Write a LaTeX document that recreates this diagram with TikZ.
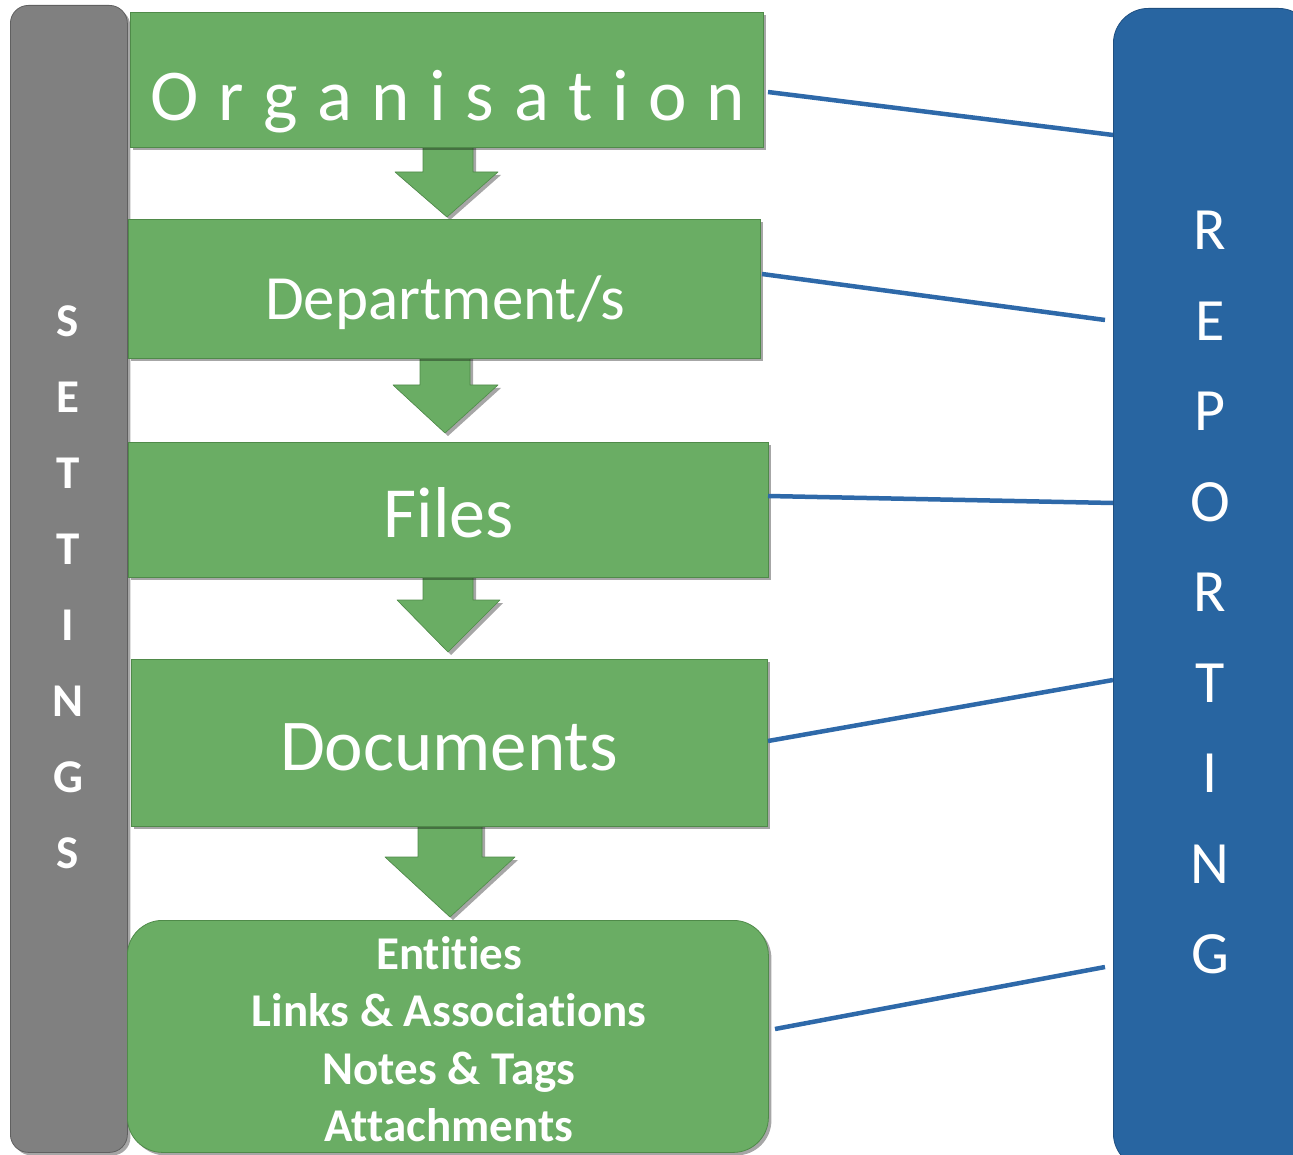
\documentclass[tikz,border=0pt]{standalone}
\usepackage{fontspec}
\setmainfont[Ligatures=NoCommon]{Carlito}
\usetikzlibrary{shadows}
\definecolor{grn}{HTML}{6AAD64}
\definecolor{grnd}{HTML}{4F8A49}
\definecolor{gry}{HTML}{808080}
\definecolor{gryd}{HTML}{606060}
\definecolor{blu}{HTML}{2865A1}
\definecolor{blud}{HTML}{1F4F80}
\definecolor{lin}{HTML}{2E69A9}
\tikzset{
  shd/.style={drop shadow={shadow xshift=3pt,shadow yshift=-3pt,opacity=0.35,fill=black}},
  gbox/.style={shd,draw=grnd,line width=0.8pt,fill=grn,text=white,inner sep=0pt,anchor=north west},
  garrow/.style={shd,draw=grnd,line width=0.6pt,fill=grn,line join=round},
  bar/.style={shd,line width=0.8pt,inner sep=0pt,anchor=north west,rounded corners=18pt},
  conn/.style={lin,line width=4.5pt},
}
\begin{document}
\begin{tikzpicture}[x=1pt,y=-1pt]
\useasboundingbox (0,0) rectangle (1293,1155);
\clip (0,0) rectangle (1293,1155);
% block arrows
\path[garrow] (423,140) -- (473,140) -- (473,172) -- (498,172) -- (447,217) -- (395,172) -- (423,172) -- cycle;
\path[garrow] (420,352) -- (470,352) -- (470,385) -- (498,385) -- (445,433) -- (393,385) -- (420,385) -- cycle;
\path[garrow] (423,572) -- (473,572) -- (473,600) -- (500,600) -- (448,652) -- (397,600) -- (423,600) -- cycle;
\path[garrow] (418,820) -- (482,820) -- (482,857) -- (515,857) -- (450,917) -- (385,857) -- (418,857) -- cycle;
% side bars
\node[bar,draw=gryd,fill=gry,minimum width=117pt,minimum height=1147pt] (set) at (10,5) {};
\node[bar,draw=blud,fill=blu,minimum width=200pt,minimum height=1160pt,rounded corners=35pt] (rep) at (1113,8) {};
% boxes
\node[gbox,minimum width=633pt,minimum height=135pt] (org) at (130,12) {};
\node[font=\fontsize{73}{73}\selectfont,text=white] (orgt) at (448,102) {O\kern19.5pt r\kern19.5pt g\kern19.5pt a\kern19.5pt n\kern19.5pt i\kern19.5pt s\kern19.5pt a\kern19.5pt t\kern19.5pt i\kern19.5pt o\kern19.5pt n};
\node[gbox,minimum width=632pt,minimum height=139pt] (dep) at (128,219) {};
\node[font=\fontsize{63}{63}\selectfont,text=white] (dept) at (445,303) {Department/s};
\node[gbox,minimum width=640pt,minimum height=135pt] (fil) at (128,442) {};
\node[font=\fontsize{72}{72}\selectfont,text=white] (filt) at (449,513) {Files};
\node[gbox,minimum width=636pt,minimum height=167pt] (doc) at (131,659) {};
\node[font=\fontsize{73}{73}\selectfont,text=white] (doct) at (449,747) {Documents};
\node[gbox,minimum width=641pt,minimum height=232pt,rounded corners=35pt] (ent) at (127,920) {};
\node[font=\bfseries\fontsize{47}{57.5}\selectfont,text=white,align=center] (entt) at (449,1039) {Entities\\Links \& Associations\\Notes \& Tags\\Attachments};
% side texts
\foreach \l [count=\i] in {S,E,T,T,I,N,G,S}
  \node[font=\bfseries\fontsize{47}{47}\selectfont,text=white] (s\i) at (68,245+76*\i) {\l};
\foreach \l [count=\i] in {R,E,P,O,R,T,I,N,G}
  \node[font=\fontsize{60}{60}\selectfont,text=white] (r\i) at (1210,140+90.5*\i) {\l};
% connectors
\coordinate (a1) at (768,92);  \coordinate (b1) at (rep.west |- 0,135);
\coordinate (a2) at (762,274); \coordinate (b2) at (1105,320);
\coordinate (a3) at (768,496); \coordinate (b3) at (rep.west |- 0,503);
\coordinate (a4) at (768,741); \coordinate (b4) at (rep.west |- 0,680);
\coordinate (a5) at (775,1029); \coordinate (b5) at (1105,967);
\foreach \i in {1,...,5} \draw[conn] (a\i) -- (b\i);
\end{tikzpicture}
\end{document}
